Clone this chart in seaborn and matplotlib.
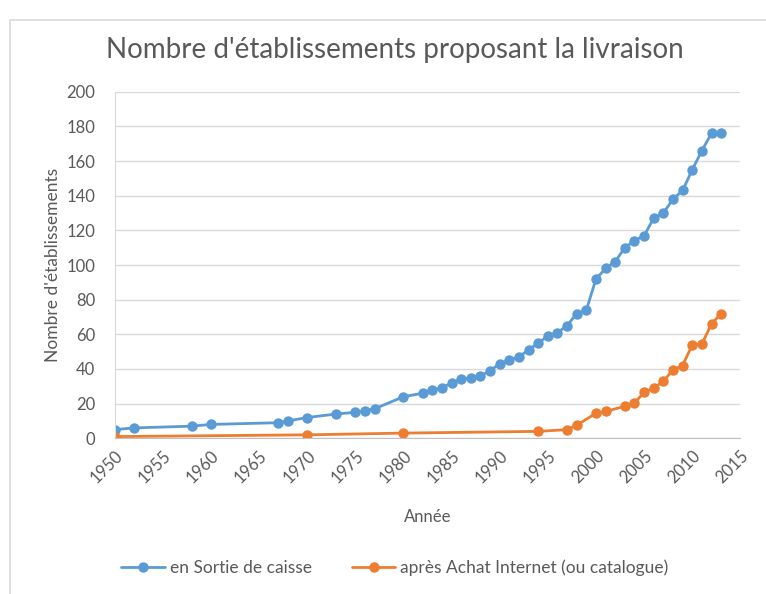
import pandas as pd
import numpy as np
import matplotlib.pyplot as plt
import seaborn as sns
from matplotlib.patches import Rectangle

years_sortie = [1950, 1952, 1958, 1960, 1967, 1968, 1970, 1973, 1975, 1976, 1977, 1980,
                1982, 1983, 1984, 1985, 1986, 1987, 1988, 1989, 1990, 1991, 1992, 1993,
                1994, 1995, 1996, 1997, 1998, 1999, 2000, 2001, 2002, 2003, 2004, 2005,
                2006, 2007, 2008, 2009, 2010, 2011, 2012, 2013]
vals_sortie = [5, 6, 7, 8, 9, 10, 12, 14, 15, 16, 17, 24,
               26, 28, 29, 32, 34, 35, 36, 39, 43, 45, 47, 51,
               55, 59, 61, 65, 72, 74, 92, 98, 102, 110, 114, 117,
               127, 130, 138, 143, 155, 166, 176, 176]

years_achat = [1950, 1970, 1980, 1994, 1997, 1998, 2000, 2001, 2003, 2004, 2005,
               2006, 2007, 2008, 2009, 2010, 2011, 2012, 2013]
vals_achat = [1, 2, 3, 4, 5, 7.5, 14.5, 15.5, 18.5, 20.5, 26.5,
              29, 33, 39.5, 42, 54, 54.5, 66, 72]

label_sortie = "en Sortie de caisse"
label_achat = "après Achat Internet (ou catalogue)"

df_s = pd.DataFrame({"Année": years_sortie, "Nombre": vals_sortie})
df_a = pd.DataFrame({"Année": years_achat, "Nombre": vals_achat})

sns.set_style("white")
plt.rcParams["font.family"] = ["Lato", "DejaVu Sans"]
grey = "#595959"

fig = plt.figure(figsize=(7.66, 5.94), dpi=100)
fig.patches.append(Rectangle((10 / 766, -0.1), 1.0, 1 - 20 / 594 + 0.1,
                             transform=fig.transFigure, fill=False,
                             edgecolor="#d9d9d9", linewidth=1.2))
ax = fig.add_axes([114.6 / 766, 1 - 438.3 / 594, (740.4 - 114.6) / 766, (438.3 - 91.7) / 594])

sns.lineplot(data=df_s, x="Année", y="Nombre", ax=ax, color="#5B9BD5", linewidth=2,
             marker="o", markersize=7.5, markeredgewidth=0, label=label_sortie)
sns.lineplot(data=df_a, x="Année", y="Nombre", ax=ax, color="#ED7D31", linewidth=2,
             marker="o", markersize=7.5, markeredgewidth=0, label=label_achat)

ax.set_xlim(1950, 2015)
ax.set_ylim(0, 200)
ax.set_xticks(np.arange(1950, 2016, 5))
ax.set_yticks(np.arange(0, 201, 20))
ax.grid(axis="y", color="#d9d9d9", linewidth=1)
ax.set_axisbelow(True)
for s in ["top", "right"]:
    ax.spines[s].set_visible(False)
ax.spines["left"].set_color("#d9d9d9")
ax.spines["bottom"].set_color("#bfbfbf")
ax.tick_params(axis="y", length=0, labelsize=12, colors=grey, pad=14)
ax.tick_params(axis="x", length=0, labelsize=12, colors=grey, pad=7)
plt.setp(ax.get_xticklabels(), rotation=45, ha="right", rotation_mode="anchor")

ax.set_xlabel("Année", fontsize=12, color=grey, labelpad=16)
ax.set_ylabel("Nombre d'établissements", fontsize=12.5, color=grey, labelpad=4)
fig.text(395 / 766, 1 - 50 / 594, "Nombre d'établissements proposant la livraison",
         ha="center", va="center", fontsize=20, color=grey)

ax.legend(loc="center", bbox_to_anchor=(0.448, (438.3 - 568) / (438.3 - 91.7)), ncol=2,
          frameon=False, fontsize=12.5, labelcolor=grey, columnspacing=2.3,
          handlelength=2.5, handletextpad=0.3)

fig.savefig("out.png", dpi=100)
